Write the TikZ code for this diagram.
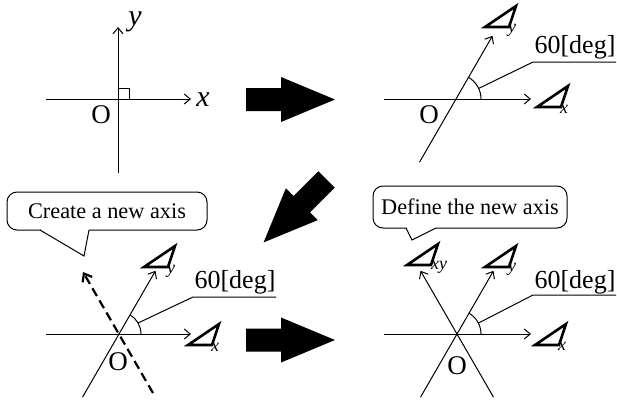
\documentclass[tikz,border=0pt]{standalone}
\usepackage{fontspec}
\setmainfont{Liberation Serif}
\usetikzlibrary{arrows.meta,calc}
\tikzset{
  thin/.style={line width=1pt},
  axis/.style={line width=1pt, -{Straight Barb[length=6pt,width=10pt,line width=1pt]}},
  newaxis/.style={line width=2.2pt, dash pattern=on 9pt off 5pt, -{Straight Barb[length=7pt,width=11pt,line width=2.2pt]}},
  lbl/.style={inner sep=0pt, font=\fontsize{27}{27}\selectfont},
  ital/.style={inner sep=0pt, font=\fontsize{30}{30}\selectfont\itshape},
  sub/.style={inner sep=0pt, anchor=base west, font=\fontsize{18}{18}\selectfont\itshape},
  deglbl/.style={inner sep=0pt, font=\fontsize{26}{26}\selectfont},
  callout/.style={draw, line width=1pt, rounded corners=10pt, fill=white, inner sep=0pt, font=\fontsize{22.3}{22.3}\selectfont},
  tri/.pic={\draw[line width=2.6pt, line join=miter] (0,0) -- (31,-21) -- (24,0) -- cycle;},
  bigarrow/.pic={\fill[black] (0,-11.5) -- (35,-11.5) -- (35,-22.5) -- (89,0) -- (35,22.5) -- (35,11.5) -- (0,11.5) -- cycle;}
}
\begin{document}
\begin{tikzpicture}[x=1pt,y=-1pt]
\useasboundingbox (0,0) rectangle (617,402);

% ---------- panel 1
\coordinate (O1) at (118,99);
\coordinate (x1a) at (46,99);  \coordinate (x1b) at (191,99);
\coordinate (y1a) at (118,173); \coordinate (y1b) at (118,27);
\draw[axis] (x1a) -- (x1b);
\draw[axis] (y1a) -- (y1b);
\coordinate (r1a) at ($(O1)+(0,-11)$); \coordinate (r1b) at ($(O1)+(11,0)$);
\draw[thin] (r1a) -| (r1b);
\node[ital] (xl1) at (203,100) {x};
\node[ital] (yl1) at (135,22) {y};
\node[lbl] (o1) at (101,115) {O};

% ---------- panel 2
\coordinate (O2) at (456,99);
\coordinate (x2a) at (384,99); \coordinate (x2b) at (531,99);
\coordinate (t2a) at ($(O2)+(-36.5,63.2)$); \coordinate (t2b) at ($(O2)+(36.5,-63.2)$);
\draw[axis] (x2a) -- (x2b);
\draw[axis] (t2a) -- (t2b);
\draw[thin] ($(O2)+(25,0)$) arc[start angle=0,end angle=-60,radius=25];
\coordinate (a2) at ($(O2)+(-25:25)$);
\coordinate (k2) at (533,62); \coordinate (e2) at (616,62);
\draw[thin] (a2) -- (k2) -- (e2);
\node[deglbl] (d2) at (575,47) {60[deg]};
\node[lbl] (o2) at (429,115) {O};
\pic at (485,27) {tri};  \node[sub] (sy2) at (508,32) {y};
\pic at (537,107) {tri}; \node[sub] (sx2) at (560,113) {x};

% ---------- panel 3
\coordinate (O3) at (119,334);
\coordinate (x3a) at (46,334); \coordinate (x3b) at (191,334);
\coordinate (t3a) at ($(O3)+(-36.5,63.2)$); \coordinate (t3b) at ($(O3)+(36.5,-63.2)$);
\coordinate (n3a) at ($(O3)+(34,59)$); \coordinate (n3b) at ($(O3)+(-36,-62)$);
\draw[axis] (x3a) -- (x3b);
\draw[axis] (t3a) -- (t3b);
\draw[newaxis] (n3a) -- (n3b);
\draw[thin] ($(O3)+(22,0)$) arc[start angle=0,end angle=-60,radius=22];
\coordinate (a3) at ($(O3)+(-30:22)$);
\coordinate (k3) at (193,297); \coordinate (e3) at (276,297);
\draw[thin] (a3) -- (k3) -- (e3);
\node[deglbl] (d3) at (235,282) {60[deg]};
\node[lbl] (o3) at (118,362) {O};
\pic at (144,267) {tri}; \node[sub] (sy3) at (167,273) {y};
\pic at (188,345) {tri}; \node[sub] (sx3) at (211,351) {x};

\node[callout, minimum width=200pt, minimum height=38pt] (c1) at (107,211) {Create a new axis};
\fill[white] (40.5,228) rectangle (88.5,232);
\coordinate (c1l) at (40,230); \coordinate (c1t) at (84,256); \coordinate (c1r) at (89,230);
\draw[thin] (c1l) -- (c1t) -- (c1r);

% ---------- panel 4
\coordinate (O4) at (457,334);
\coordinate (x4a) at (384,334); \coordinate (x4b) at (531,334);
\coordinate (t4a) at ($(O4)+(-36.5,63.2)$); \coordinate (t4b) at ($(O4)+(36.5,-63.2)$);
\coordinate (u4a) at ($(O4)+(36.5,63.2)$); \coordinate (u4b) at ($(O4)+(-36.5,-63.2)$);
\draw[axis] (x4a) -- (x4b);
\draw[axis] (t4a) -- (t4b);
\draw[axis] (u4a) -- (u4b);
\draw[thin] ($(O4)+(24,0)$) arc[start angle=0,end angle=-60,radius=24];
\coordinate (a4) at ($(O4)+(-27:24)$);
\coordinate (k4) at (533,295); \coordinate (e4) at (616,295);
\draw[thin] (a4) -- (k4) -- (e4);
\node[deglbl] (d4) at (575,282) {60[deg]};
\node[lbl] (o4) at (457,366) {O};
\pic at (407,265) {tri}; \node[sub] (sxy4) at (431,269) {xy};
\pic at (485,267) {tri}; \node[sub] (sy4) at (508,271) {y};
\pic at (535,345) {tri}; \node[sub] (sx4) at (558,350) {x};

\node[callout, minimum width=194pt, minimum height=42pt] (c2) at (470,207) {Define the new axis};
\fill[white] (406.5,226) rectangle (435.5,230);
\coordinate (c2l) at (406,228); \coordinate (c2t) at (412,240); \coordinate (c2r) at (436,228);
\draw[thin] (c2l) -- (c2t) -- (c2r);

% ---------- big arrows
\pic at (246,99.5) {bigarrow};
\pic[rotate=225] at (326.5,179.5) {bigarrow};
\pic at (246,340) {bigarrow};
\end{tikzpicture}
\end{document}
